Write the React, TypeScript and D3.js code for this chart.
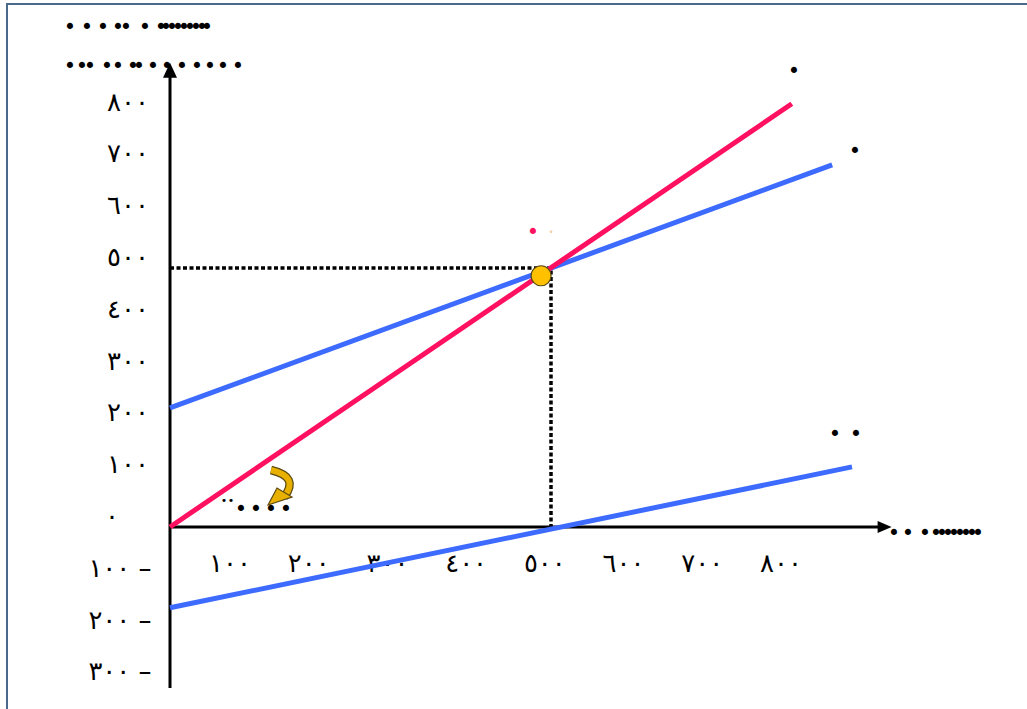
import React from "react";
import * as d3 from "d3";

// axis tick values (shown with Arabic-Indic digits)
const xTicks = [100, 200, 300, 400, 500, 600, 700, 800];
const yTicks = [800, 700, 600, 500, 400, 300, 200, 100, 0, -100, -200, -300];

// the three straight lines, as [x, y] end points
const redLine: [number, number][] = [[0, 0], [816, 817]];
const blueUpper: [number, number][] = [[0, 230], [869, 699]];
const blueLower: [number, number][] = [[0, -156], [895, 116]];

// meeting point and its guide lines
const meetPoint: [number, number] = [487, 485];
const guide: [number, number] = [500, 500];

const toArabic = (n: number) =>
  String(Math.abs(n)).replace(/\d/g, (d) => "٠١٢٣٤٥٦٧٨٩"[+d]);

const RED = "#ff1060";
const BLUE = "#3d6bff";
const DOT = "•";
const FONT = "'DejaVu Sans', sans-serif";

function Dots({ xs, y, size = 21, color = "#000" }: { xs: number[]; y: number; size?: number; color?: string }) {
  return (
    <text
      x={xs.join(" ")}
      y={y + size * 0.33}
      fontSize={size}
      fontFamily={FONT}
      fill={color}
      textAnchor="middle"
    >
      {DOT.repeat(xs.length)}
    </text>
  );
}

export default function App() {
  const x = d3.scaleLinear().domain([0, 500]).range([170, 551]);
  const y = d3.scaleLinear().domain([0, 500]).range([527, 268]);
  const xLabel = d3.scaleLinear().domain([100, 800]).range([230, 781]);
  const line = d3
    .line<[number, number]>()
    .x((d) => x(d[0]))
    .y((d) => y(d[1]));

  const x0 = x(0);
  const y0 = y(0);
  const yTop = y(896);
  const yBottom = y(-311);
  const xRight = x(947);

  return (
    <svg
      width={1027}
      height={709}
      style={{ position: "absolute", left: 0, top: 0, background: "#fff" }}
    >
      <rect x={7} y={4} width={1040} height={720} fill="none" stroke="#4a6a8c" strokeWidth={2} />

      {/* title rows */}
      <Dots xs={[70, 87, 103, 118, 126, 145, 161, 166, 172, 178, 184, 190, 196, 202, 207]} y={27} />
      <Dots xs={[70, 82, 90, 107, 118, 133, 139, 153, 167, 182, 197, 210, 223, 238]} y={66} />

      {/* axes */}
      <line x1={x0} y1={yBottom} x2={x0} y2={yTop + 12} stroke="#000" strokeWidth={3} />
      <polygon points={`${x0},${yTop} ${x0 - 7},${yTop + 15} ${x0 + 7},${yTop + 15}`} fill="#000" />
      <line x1={x0} y1={y0} x2={xRight - 12} y2={y0} stroke="#000" strokeWidth={3} />
      <polygon points={`${xRight},${y0} ${xRight - 14},${y0 - 6} ${xRight - 14},${y0 + 6}`} fill="#000" />
      <Dots xs={[894, 908, 925, 936, 942, 948, 954, 960, 966, 972, 978]} y={533} />

      {/* y tick labels */}
      {yTicks.map((v) => (
        <text
          key={v}
          x={v === 0 ? 112 : v > 0 ? 128 : 120}
          y={y(v) - 11}
          dominantBaseline="central"
          textAnchor="middle"
          fontSize={26}
          fontFamily={FONT}
          fill="#000"
        >
          {toArabic(v) + (v < 0 ? " –" : "")}
        </text>
      ))}

      {/* x tick labels */}
      {xTicks.map((v) => (
        <text
          key={v}
          x={xLabel(v)}
          y={563}
          dominantBaseline="central"
          textAnchor="middle"
          fontSize={26}
          fontFamily={FONT}
          fill="#000"
        >
          {toArabic(v)}
        </text>
      ))}

      {/* guides to the meeting point */}
      <path
        d={`M${x(0)},${y(guide[1])} H${x(guide[0])} V${y0}`}
        fill="none"
        stroke="#000"
        strokeWidth={3.5}
        strokeDasharray="4 2.5"
      />

      {/* lines */}
      <path d={line(blueLower) ?? ""} stroke={BLUE} strokeWidth={5} fill="none" />
      <path d={line(blueUpper) ?? ""} stroke={BLUE} strokeWidth={5} fill="none" />
      <path d={line(redLine) ?? ""} stroke={RED} strokeWidth={5} fill="none" />

      <circle cx={x(meetPoint[0])} cy={y(meetPoint[1])} r={10} fill="#ffc000" stroke="#5a4a10" strokeWidth={1.2} />

      {/* line labels */}
      <Dots xs={[794]} y={71} />
      <Dots xs={[855]} y={151} />
      <Dots xs={[835, 856]} y={434} />
      <Dots xs={[533]} y={232} color={RED} />
      <Dots xs={[551]} y={232} size={8} color="#f5c8a0" />

      {/* origin note with curved arrow */}
      <Dots xs={[224, 231]} y={500} size={11} />
      <Dots xs={[241, 256, 271, 286]} y={509} />
      <path d="M271,470 Q300,477 284,497" fill="none" stroke="#5a4a10" strokeWidth={8.5} />
      <path d="M271,470 Q300,477 284,497" fill="none" stroke="#e8b000" strokeWidth={6} />
      <polygon points="268,505 277,488 292,497" fill="#e8b000" stroke="#5a4a10" strokeWidth={1.2} />
    </svg>
  );
}
